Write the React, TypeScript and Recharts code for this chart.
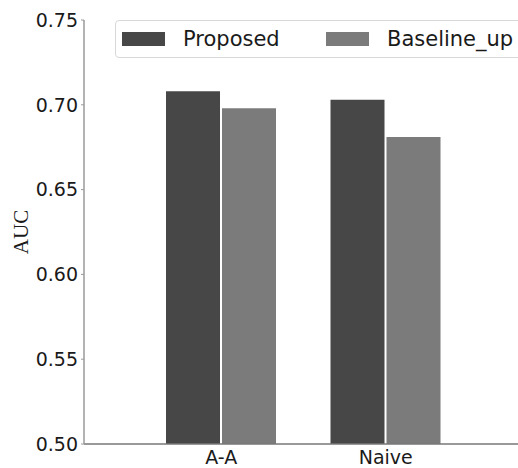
import React from "react";
import { BarChart, Bar, XAxis, YAxis, Legend } from "recharts";

const categories = ["A-A", "Naive"];
const proposed = [0.708, 0.703];
const baselineUp = [0.698, 0.681];
const yTicks = [0.5, 0.55, 0.6, 0.65, 0.7, 0.75];

const data = categories.map((name, i) => ({
  name,
  proposed: proposed[i],
  baselineUp: baselineUp[i],
}));

const FONT = "'DejaVu Sans', sans-serif";
const DARK = "#474747";
const LIGHT = "#7b7b7b";
const SPINE = "#9a9a9a";

function LegendBox() {
  const item = (color: string, label: string, width: number) => (
    <div style={{ display: "flex", alignItems: "center", width }}>
      <div style={{ width: 43, height: 14, background: color, marginRight: 18 }} />
      <span style={{ fontSize: 21, color: "#1a1a1a" }}>{label}</span>
    </div>
  );
  return (
    <div
      style={{
        display: "flex",
        alignItems: "center",
        height: 38,
        boxSizing: "border-box",
        border: "1px solid #d8d8d8",
        borderRadius: 4,
        background: "#fff",
        paddingLeft: 6,
        fontFamily: FONT,
      }}
    >
      {item(DARK, "Proposed", 204)}
      {item(LIGHT, "Baseline_up", 220)}
    </div>
  );
}

export default function App() {
  return (
    <div
      style={{
        position: "absolute",
        left: 0,
        top: 0,
        width: 518,
        height: 468,
        overflow: "hidden",
        background: "#fff",
      }}
    >
      <BarChart
        width={560}
        height={468}
        data={data}
        margin={{ top: 20, right: 0, left: 0, bottom: 0 }}
        barGap={2}
        barSize={54}
      >
        <XAxis
          dataKey="name"
          height={24}
          padding={{ left: 55, right: 92 }}
          axisLine={{ stroke: "#777", strokeWidth: 1.5 }}
          tickLine={false}
          tick={{ fill: "#1a1a1a", fontSize: 19, fontFamily: FONT }}
          tickMargin={1}
          interval={0}
        />
        <XAxis
          xAxisId="top"
          orientation="top"
          dataKey="name"
          height={0}
          axisLine={{ stroke: "#b8b8b8" }}
          tick={false}
          tickLine={false}
        />
        <YAxis
          width={84}
          domain={[0.5, 0.75]}
          ticks={yTicks}
          allowDataOverflow
          tickFormatter={(v: number) => v.toFixed(2)}
          axisLine={{ stroke: SPINE, strokeWidth: 1.5 }}
          tickLine={{ stroke: SPINE }}
          tickSize={3}
          tickMargin={3}
          tick={{ fill: "#1a1a1a", fontSize: 19, fontFamily: FONT }}
          label={{
            content: () => (
              <text
                x={21}
                y={232}
                transform="rotate(-90 21 232)"
                textAnchor="middle"
                dominantBaseline="central"
                fontFamily="'Liberation Serif', 'DejaVu Serif', serif"
                fontSize={21}
                fill="#1a1a1a"
              >
                AUC
              </text>
            ),
          }}
        />
        <Legend
          verticalAlign="middle"
          align="center"
          layout="horizontal"
          content={() => <LegendBox />}
          wrapperStyle={{ position: "absolute", left: 115, top: 20, width: 440 }}
        />
        <Bar dataKey="proposed" name="Proposed" fill={DARK} isAnimationActive={false} />
        <Bar dataKey="baselineUp" name="Baseline_up" fill={LIGHT} isAnimationActive={false} />
      </BarChart>
    </div>
  );
}
